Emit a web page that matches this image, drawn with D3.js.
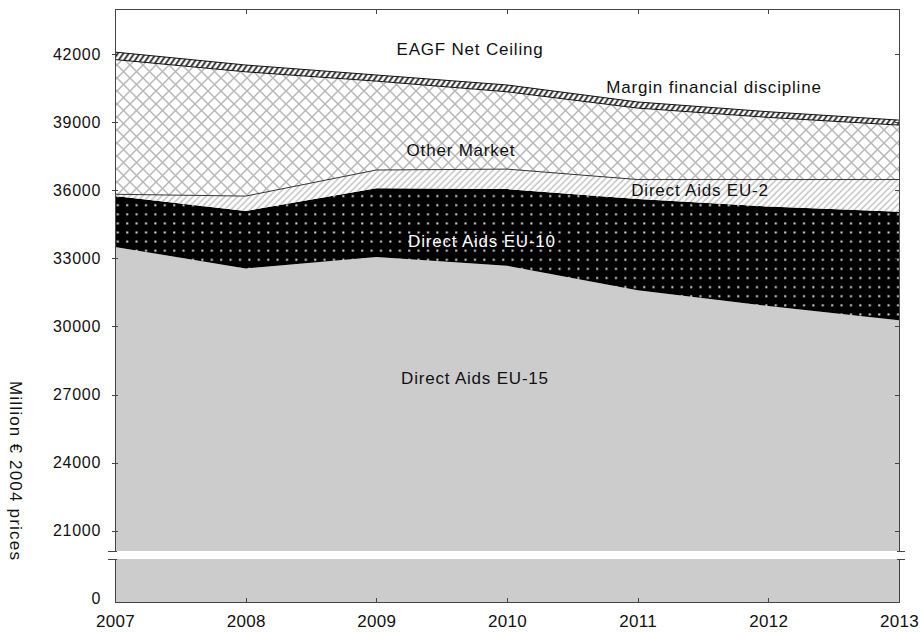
<!DOCTYPE html>
<html>
<head>
<meta charset="utf-8">
<script src="https://cdn.jsdelivr.net/npm/d3@7"></script>
<style>
  html, body { margin: 0; padding: 0; background: #fff; }
  svg { display: block; font-family: "Liberation Sans", Arial, sans-serif; }
</style>
</head>
<body>
<svg id="chart" width="920" height="633"></svg>
<script>
// ---- data (Million € 2004 prices) ----
const years = [2007, 2008, 2009, 2010, 2011, 2012, 2013];
const directAidsEU15 = [33510, 32560, 33060, 32680, 31600, 30900, 30280];
const directAidsEU10 = [2240, 2530, 3040, 3380, 4020, 4390, 4780];
const directAidsEU2  = [80, 660, 800, 880, 860, 1190, 1420];
const otherMarket    = [5940, 5480, 3920, 3410, 3150, 2740, 2400];
const marginFinancialDiscipline = [330, 300, 270, 300, 270, 250, 220];
const yTickValues = [0, 21000, 24000, 27000, 30000, 33000, 36000, 39000, 42000];
const seriesKeys = ["eu15", "eu10", "eu2", "other", "margin"];

const rows = years.map((yr, i) => ({
  year: yr,
  eu15: directAidsEU15[i],
  eu10: directAidsEU10[i],
  eu2: directAidsEU2[i],
  other: otherMarket[i],
  margin: marginFinancialDiscipline[i]
}));

const svg = d3.select("#chart");
const L = 115, R = 899, T = 9, B = 602;
const gapTop = 551, gapBot = 559;

const x = d3.scaleLinear().domain([2007, 2013]).range([L, R]);
const y = d3.scaleLinear().domain([0, 20100, 44000]).range([B, gapTop, T]);

// ---- patterns ----
const defs = svg.append("defs");
// EU-10: black with light dots
const pDots = defs.append("pattern").attr("id", "dots")
  .attr("patternUnits", "userSpaceOnUse").attr("width", 9.4).attr("height", 9.1);
pDots.append("rect").attr("width", 9.4).attr("height", 9.1).attr("fill", "#000");
pDots.append("rect").attr("x", 4).attr("y", 4).attr("width", 2).attr("height", 2).attr("fill", "#dcdcdc");
// EU-2: light diagonal hatch
const pHatch = defs.append("pattern").attr("id", "hatch")
  .attr("patternUnits", "userSpaceOnUse").attr("width", 4.5).attr("height", 10)
  .attr("patternTransform", "rotate(45)");
pHatch.append("rect").attr("width", 4.5).attr("height", 10).attr("fill", "#fff");
pHatch.append("line").attr("x1", 1).attr("y1", 0).attr("x2", 1).attr("y2", 10)
  .attr("stroke", "#c8c8c8").attr("stroke-width", 1.6);
// Other market: diamond crosshatch
const s = 13;
const pCross = defs.append("pattern").attr("id", "cross")
  .attr("patternUnits", "userSpaceOnUse").attr("width", s).attr("height", s);
pCross.append("rect").attr("width", s).attr("height", s).attr("fill", "#fff");
pCross.append("path")
  .attr("d", `M-2,-2L${s+2},${s+2}M${s+2},-2L-2,${s+2}`)
  .attr("stroke", "#b8b8b8").attr("stroke-width", 1.5).attr("fill", "none");
// Margin: dark slanted chain
const pMargin = defs.append("pattern").attr("id", "margin")
  .attr("patternUnits", "userSpaceOnUse").attr("width", 4.5).attr("height", 10)
  .attr("patternTransform", "rotate(35)");
pMargin.append("rect").attr("width", 4.5).attr("height", 10).attr("fill", "#fff");
pMargin.append("line").attr("x1", 1.2).attr("y1", 0).attr("x2", 1.2).attr("y2", 10)
  .attr("stroke", "#222").attr("stroke-width", 1.8);

const fills = { eu15: "#cccccc", eu10: "url(#dots)", eu2: "url(#hatch)", other: "url(#cross)", margin: "url(#margin)" };

// ---- stacked areas ----
const stacked = d3.stack().keys(seriesKeys)(rows);
const area = d3.area()
  .x(d => x(d.data.year))
  .y0(d => y(d[0]))
  .y1(d => y(d[1]));
const line = d3.line().x(d => x(d.data.year)).y(d => y(d[1]));

svg.append("g").selectAll("path")
  .data(stacked).join("path")
  .attr("d", area)
  .attr("fill", d => fills[d.key]);

// boundary lines
svg.append("g").selectAll("path")
  .data(stacked.filter(d => d.key === "eu2" || d.key === "other" || d.key === "margin"))
  .join("path")
  .attr("d", line)
  .attr("fill", "none")
  .attr("stroke", d => d.key === "eu2" ? "#333" : "#111")
  .attr("stroke-width", 1);

// ---- axis break gap ----
svg.append("rect").attr("x", L - 2).attr("y", gapTop).attr("width", R - L + 4).attr("height", gapBot - gapTop).attr("fill", "#fff");

// ---- frame ----
const axisColor = "#444";
const frame = svg.append("g").attr("stroke", axisColor).attr("stroke-width", 1).attr("fill", "none");
frame.append("line").attr("x1", L).attr("x2", R).attr("y1", T + 0.5).attr("y2", T + 0.5);
frame.append("line").attr("x1", L).attr("x2", R).attr("y1", B + 0.5).attr("y2", B + 0.5);
[L, R].forEach(xx => {
  frame.append("line").attr("x1", xx + 0.5).attr("x2", xx + 0.5).attr("y1", T).attr("y2", gapTop);
  frame.append("line").attr("x1", xx + 0.5).attr("x2", xx + 0.5).attr("y1", gapBot).attr("y2", B + 1);
});
// break marks
[gapTop, gapBot].forEach(yy => {
  frame.append("line").attr("x1", L - 7).attr("x2", L + 2).attr("y1", yy + 0.5).attr("y2", yy + 0.5);
  frame.append("line").attr("x1", R - 2).attr("x2", R + 6).attr("y1", yy + 0.5).attr("y2", yy + 0.5);
});

// ---- y axis ----
const yAxis = d3.axisLeft(y).tickValues(yTickValues).tickFormat(d3.format("d")).tickSize(0).tickPadding(14);
const gy = svg.append("g").attr("transform", `translate(${L},0)`).call(yAxis);
gy.select(".domain").remove();
gy.selectAll("text").attr("font-size", 16).attr("fill", "#111").attr("letter-spacing", 0.7)
  .attr("font-family", "Liberation Sans, Arial, sans-serif");
gy.selectAll(".tick").filter(d => d === 0).select("text").attr("dy", "0.1em");
// tick marks left (crossing) and right (inside)
yTickValues.filter(v => v > 0).forEach(v => {
  frame.append("line").attr("x1", L - 3).attr("x2", L + 3).attr("y1", Math.round(y(v)) + 0.5).attr("y2", Math.round(y(v)) + 0.5);
  frame.append("line").attr("x1", R - 4).attr("x2", R).attr("y1", Math.round(y(v)) + 0.5).attr("y2", Math.round(y(v)) + 0.5);
});

// ---- x axis ----
const xAxis = d3.axisBottom(x).tickValues(years).tickFormat(d3.format("d")).tickSize(0).tickPadding(13);
const gx = svg.append("g").attr("transform", `translate(0,${B})`).call(xAxis);
gx.select(".domain").remove();
gx.selectAll("text").attr("font-size", 17).attr("fill", "#111").attr("letter-spacing", 0.3)
  .attr("font-family", "Liberation Sans, Arial, sans-serif");
years.slice(1, -1).forEach(yr => {
  const xx = Math.round(x(yr)) + 0.5;
  frame.append("line").attr("x1", xx).attr("x2", xx).attr("y1", B).attr("y2", B - 4);
  frame.append("line").attr("x1", xx).attr("x2", xx).attr("y1", T).attr("y2", T + 5);
});

// ---- y title ----
svg.append("text")
  .attr("transform", "translate(10,471) rotate(90)")
  .attr("text-anchor", "middle")
  .attr("font-size", 17).attr("fill", "#111").attr("letter-spacing", 1.2)
  .text("Million € 2004 prices");

// ---- in-chart labels ----
const labels = [
  { t: "EAGF Net Ceiling", x: 470, y: 55, c: "#111" },
  { t: "Margin financial discipline", x: 714, y: 93, c: "#111" },
  { t: "Other Market", x: 461, y: 156, c: "#111" },
  { t: "Direct Aids EU-2", x: 700, y: 196, c: "#111" },
  { t: "Direct Aids EU-10", x: 482, y: 247, c: "#fff" },
  { t: "Direct Aids EU-15", x: 475, y: 384, c: "#111" }
];
svg.append("g").selectAll("text").data(labels).join("text")
  .attr("x", d => d.x).attr("y", d => d.y)
  .attr("text-anchor", "middle")
  .attr("font-size", 17).attr("letter-spacing", 0.8)
  .attr("fill", d => d.c)
  .text(d => d.t);
</script>
</body>
</html>
